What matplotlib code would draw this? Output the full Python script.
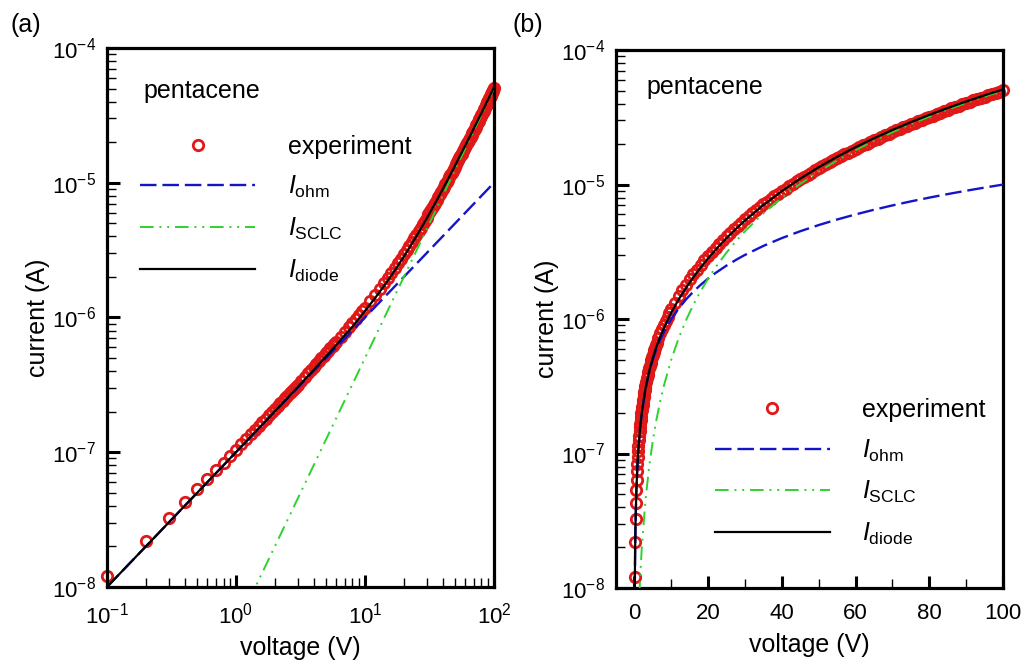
import matplotlib
matplotlib.use("Agg")
import matplotlib.pyplot as plt
from matplotlib.ticker import LogLocator, MultipleLocator, NullFormatter

plt.rcParams['font.family'] = ['Liberation Sans', 'DejaVu Sans']
plt.rcParams['mathtext.fontset'] = 'custom'
plt.rcParams['mathtext.rm'] = 'Liberation Sans'
plt.rcParams['mathtext.it'] = 'Liberation Sans:italic'
plt.rcParams['mathtext.default'] = 'regular'

# ---- measured I-V sweep (pentacene) ----
v_exp = [0.1, 0.2, 0.3, 0.4, 0.5, 0.6, 0.7, 0.8, 0.9, 1.0,
         1.1, 1.2, 1.3, 1.4, 1.5, 1.6, 1.7, 1.8, 1.9, 2.0,
         2.1, 2.2, 2.3, 2.4, 2.5, 2.6, 2.7, 2.8, 2.9, 3.0,
         3.2, 3.4, 3.6, 3.8, 4.0, 4.2, 4.4, 4.6, 4.8, 5.0,
         5.2, 5.4, 5.6, 5.8, 6.0, 6.5, 7.0, 7.5, 8.0, 8.5,
         9.0, 9.5, 10, 11, 12, 13, 14, 15, 16, 17,
         18, 19, 20, 21, 22, 23, 24, 25, 26, 27,
         28, 29, 30, 31, 32, 33, 34, 35, 36, 37,
         38, 39, 40, 41, 42, 43, 44, 45, 46, 47,
         48, 49, 50, 51, 52, 53, 54, 55, 56, 57,
         58, 59, 60, 61, 62, 63, 64, 65, 66, 67,
         68, 69, 70, 71, 72, 73, 74, 75, 76, 77,
         78, 79, 80, 81, 82, 83, 84, 85, 86, 87,
         88, 89, 90, 91, 92, 93, 94, 95, 96, 97,
         98, 99, 100]
i_exp = [1.21e-8, 2.21e-8, 3.24e-8, 4.30e-8, 5.33e-8, 6.33e-8, 7.38e-8, 8.37e-8, 9.38e-8, 1.04e-7,
         1.145e-7, 1.25e-7, 1.355e-7, 1.46e-7, 1.565e-7, 1.67e-7, 1.775e-7, 1.88e-7, 1.99e-7, 2.10e-7,
         2.20e-7, 2.31e-7, 2.42e-7, 2.52e-7, 2.63e-7, 2.74e-7, 2.85e-7, 2.96e-7, 3.07e-7, 3.18e-7,
         3.40e-7, 3.62e-7, 3.84e-7, 4.06e-7, 4.29e-7, 4.51e-7, 4.74e-7, 4.97e-7, 5.20e-7, 5.43e-7,
         5.66e-7, 5.90e-7, 6.13e-7, 6.37e-7, 6.61e-7, 7.21e-7, 7.83e-7, 8.46e-7, 9.03e-7, 9.75e-7,
         1.042e-6, 1.111e-6, 1.180e-6, 1.324e-6, 1.475e-6, 1.633e-6, 1.798e-6, 1.969e-6, 2.147e-6, 2.334e-6,
         2.528e-6, 2.731e-6, 2.942e-6, 3.161e-6, 3.388e-6, 3.624e-6, 3.869e-6, 4.122e-6, 4.384e-6, 4.654e-6,
         4.933e-6, 5.220e-6, 5.517e-6, 5.821e-6, 6.134e-6, 6.456e-6, 6.786e-6, 7.125e-6, 7.472e-6, 7.828e-6,
         8.192e-6, 8.564e-6, 8.944e-6, 9.33e-6, 9.73e-6, 1.0135e-5, 1.0548e-5, 1.0969e-5, 1.1398e-5, 1.1835e-5,
         1.2280e-5, 1.2733e-5, 1.3194e-5, 1.3676e-5, 1.4167e-5, 1.4667e-5, 1.5175e-5, 1.5692e-5, 1.6217e-5, 1.6751e-5,
         1.7294e-5, 1.7845e-5, 1.8404e-5, 1.8992e-5, 1.9570e-5, 2.0176e-5, 2.0770e-5, 2.1395e-5, 2.2007e-5, 2.2651e-5,
         2.3280e-5, 2.3942e-5, 2.4588e-5, 2.5270e-5, 2.5960e-5, 2.6660e-5, 2.7370e-5, 2.8089e-5, 2.8818e-5, 2.9557e-5,
         3.0305e-5, 3.1063e-5, 3.1831e-5, 3.2641e-5, 3.3464e-5, 3.4297e-5, 3.5142e-5, 3.5999e-5, 3.6866e-5, 3.7745e-5,
         3.8635e-5, 3.9538e-5, 4.0451e-5, 4.1376e-5, 4.2313e-5, 4.3261e-5, 4.4220e-5, 4.5192e-5, 4.6175e-5, 4.7170e-5,
         4.8177e-5, 4.9195e-5, 5.05e-5]

# ---- model curves ----
v_model = [0.1, 0.2, 0.3, 0.5, 0.7, 1, 1.5, 2, 3, 4, 5, 6, 7, 8, 10, 12, 14, 16, 18, 20,
           22, 25, 28, 30, 35, 40, 45, 50, 55, 60, 65, 70, 75, 80, 85, 90, 95, 100]
i_ohm = [1e-8, 2e-8, 3e-8, 5e-8, 7e-8, 1e-7, 1.5e-7, 2e-7, 3e-7, 4e-7, 5e-7, 6e-7, 7e-7, 8e-7,
         1e-6, 1.2e-6, 1.4e-6, 1.6e-6, 1.8e-6, 2e-6, 2.2e-6, 2.5e-6, 2.8e-6, 3e-6, 3.5e-6, 4e-6,
         4.5e-6, 5e-6, 5.5e-6, 6e-6, 6.5e-6, 7e-6, 7.5e-6, 8e-6, 8.5e-6, 9e-6, 9.5e-6, 1e-5]
i_sclc = [5e-11, 2e-10, 4.5e-10, 1.25e-9, 2.45e-9, 5e-9, 1.125e-8, 2e-8, 4.5e-8, 8e-8, 1.25e-7,
          1.8e-7, 2.45e-7, 3.2e-7, 5e-7, 7.2e-7, 9.8e-7, 1.28e-6, 1.62e-6, 2e-6, 2.42e-6, 3.125e-6,
          3.92e-6, 4.5e-6, 6.125e-6, 8e-6, 1.0125e-5, 1.25e-5, 1.5125e-5, 1.8e-5, 2.1125e-5, 2.45e-5,
          2.8125e-5, 3.2e-5, 3.6125e-5, 4.05e-5, 4.5125e-5, 5e-5]
i_diode = [1.0e-8, 2.0e-8, 3.0e-8, 5.0e-8, 7.0e-8, 1.0012e-7, 1.5042e-7, 2.01e-7, 3.034e-7, 4.079e-7,
           5.154e-7, 6.259e-7, 7.416e-7, 8.55e-7, 1.118e-6, 1.399e-6, 1.709e-6, 2.049e-6, 2.4216e-6,
           2.828e-6, 3.271e-6, 4.002e-6, 4.817e-6, 5.408e-6, 7.054e-6, 8.944e-6, 1.108e-5, 1.3463e-5,
           1.6094e-5, 1.8974e-5, 2.2102e-5, 2.548e-5, 2.9108e-5, 3.2985e-5, 3.7112e-5, 4.1488e-5,
           4.6114e-5, 5.099e-5]

RED = '#e01818'
BLUE = '#1414c8'
GREEN = '#2ed22e'

fig = plt.figure(figsize=(10.27, 6.64), dpi=100)
ax_a = fig.add_axes([0.1042, 0.116, 0.3768, 0.8117])
ax_b = fig.add_axes([0.5998, 0.1145, 0.3768, 0.810])

labels = ['experiment', r'$\mathit{I}_{\mathrm{ohm}}$',
          r'$\mathit{I}_{\mathrm{SCLC}}$', r'$\mathit{I}_{\mathrm{diode}}$']


def draw(ax):
    h_exp, = ax.plot(v_exp, i_exp, linestyle='none', marker='o', markersize=7.5,
                     markerfacecolor='none', markeredgecolor=RED, markeredgewidth=2.0,
                     clip_on=False, zorder=2)
    h_ohm, = ax.plot(v_model, i_ohm, color=BLUE, lw=1.7, dashes=(7, 2.5), zorder=3)
    h_sclc, = ax.plot(v_model, i_sclc, color=GREEN, lw=1.4,
                      dashes=(7, 3, 1, 3, 1, 3), zorder=3)
    h_diode, = ax.plot(v_model, i_diode, color='black', lw=1.6, zorder=4)
    ax.set_yscale('log')
    ax.set_ylim(1e-8, 1e-4)
    ax.yaxis.set_major_locator(LogLocator(base=10, numticks=10))
    ax.yaxis.set_minor_locator(LogLocator(base=10, subs=range(2, 10), numticks=50))
    ax.yaxis.set_minor_formatter(NullFormatter())
    for s in ax.spines.values():
        s.set_linewidth(2.3)
    ax.tick_params(which='both', direction='in', top=False, right=False)
    ax.tick_params(which='major', length=9, width=2.2, labelsize=16)
    ax.tick_params(which='minor', length=6.5, width=1.0)
    ax.tick_params(axis='y', which='major', pad=8)
    ax.tick_params(axis='x', which='major', pad=11)
    ax.set_xlabel('voltage (V)', fontsize=18, labelpad=6)
    ax.set_ylabel('current (A)', fontsize=18, labelpad=1)
    return [h_exp, h_ohm, h_sclc, h_diode]


legend_style = dict(loc='upper left', frameon=False, fontsize=18, numpoints=1,
                    handlelength=4.6, handletextpad=1.3, labelspacing=0.62, borderaxespad=0)

handles = draw(ax_a)
ax_a.set_xscale('log')
ax_a.set_xlim(0.1, 100)
ax_a.xaxis.set_major_locator(LogLocator(base=10, numticks=10))
ax_a.xaxis.set_minor_locator(LogLocator(base=10, subs=range(2, 10), numticks=50))
ax_a.xaxis.set_minor_formatter(NullFormatter())
ax_a.text(0.093, 0.92, 'pentacene', transform=ax_a.transAxes, fontsize=18, va='center')
ax_a.legend(handles, labels, bbox_to_anchor=(0.06, 0.858), **legend_style)

handles_b = draw(ax_b)
ax_b.set_xlim(-5, 100)
ax_b.xaxis.set_major_locator(MultipleLocator(20))
ax_b.xaxis.set_minor_locator(MultipleLocator(10))
ax_b.text(0.078, 0.931, 'pentacene', transform=ax_b.transAxes, fontsize=18, va='center')
ax_b.legend(handles_b, labels, bbox_to_anchor=(0.23, 0.372), **legend_style)

fig.text(0.010, 0.963, '(a)', fontsize=18, va='center')
fig.text(0.499, 0.963, '(b)', fontsize=18, va='center')

fig.savefig('out.png', dpi=100)
